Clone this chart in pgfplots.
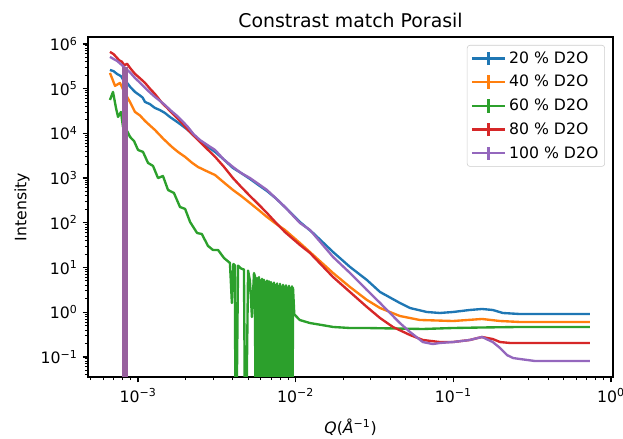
\documentclass[border=0pt]{standalone}
\usepackage{fontspec}
\setmainfont{DejaVu Sans}
\usepackage{pgfplots}
\pgfplotsset{compat=1.18}
\definecolor{c0}{HTML}{1F77B4}
\definecolor{c1}{HTML}{FF7F0E}
\definecolor{c2}{HTML}{2CA02C}
\definecolor{c3}{HTML}{D62728}
\definecolor{c4}{HTML}{9467BD}
\definecolor{cbar}{RGB}{152,96,158}
\begin{document}
\begin{tikzpicture}
\path[use as bounding box] (-63.4pt,-44.6pt) rectangle (385.2pt,271.4pt);
\begin{axis}[
  at={(0pt,0pt)}, anchor=south west,
  scale only axis, width=378pt, height=244.8pt,
  xmode=log, ymode=log,
  xmin=4.82e-4, xmax=1.03, ymin=0.0357, ymax=1.43e6,
  axis line style={black, line width=0.9pt},
  tick align=outside, xtick pos=bottom, ytick pos=left,
  major tick length=4pt, minor tick length=2.3pt,
  every tick/.style={black, line width=0.9pt},
  every minor tick/.style={black, line width=0.7pt},
  xtick={1e-3,1e-2,1e-1,1},
  xticklabels={10\textsuperscript{−3},10\textsuperscript{−2},10\textsuperscript{−1},10\textsuperscript{0}},
  minor xtick={5e-4,6e-4,7e-4,8e-4,9e-4,2e-3,3e-3,4e-3,5e-3,6e-3,7e-3,8e-3,9e-3,2e-2,3e-2,4e-2,5e-2,6e-2,7e-2,8e-2,9e-2,0.2,0.3,0.4,0.5,0.6,0.7,0.8,0.9},
  ytick={1e-1,1,10,100,1e3,1e4,1e5,1e6},
  yticklabels={10\textsuperscript{−1},10\textsuperscript{0},10\textsuperscript{1},10\textsuperscript{2},10\textsuperscript{3},10\textsuperscript{4},10\textsuperscript{5},10\textsuperscript{6}},
  minor ytick={0.04,0.05,0.06,0.07,0.08,0.09,0.2,0.3,0.4,0.5,0.6,0.7,0.8,0.9,2,3,4,5,6,7,8,9,20,30,40,50,60,70,80,90,200,300,400,500,600,700,800,900,2e3,3e3,4e3,5e3,6e3,7e3,8e3,9e3,2e4,3e4,4e4,5e4,6e4,7e4,8e4,9e4,2e5,3e5,4e5,5e5,6e5,7e5,8e5,9e5},
  ticklabel style={font=\fontsize{11.3}{13}\selectfont},
  xticklabel style={yshift=-1pt},
  title={Constrast match Porasil},
  title style={font=\fontsize{13.6}{16}\selectfont, yshift=-3pt},
  xlabel={\textit{Q}(\textit{Å}\textsuperscript{−1})},
  ylabel={Intensity},
  every axis x label/.style={at={(axis description cs:0.5,-0.147)},anchor=center},
  every axis y label/.style={at={(axis description cs:-0.1257,0.5)},rotate=90,anchor=center},
  label style={font=\fontsize{11.3}{13}\selectfont},
  legend cell align=left,
  legend style={at={(1,1)}, anchor=north east, xshift=-5.8pt, yshift=-5.8pt,
    draw=black!20, rounded corners=2pt, fill=white, fill opacity=0.8, text opacity=1,
    font=\fontsize{11.3}{13}\selectfont, row sep=3.2pt, inner sep=2.5pt},
  legend image code/.code={%
    \draw[#1,line width=1.7pt] (0pt,0pt) -- (24pt,0pt);
    \draw[#1,line width=1.7pt] (12pt,-4.8pt) -- (12pt,4.8pt);},
  every axis plot/.append style={line width=1.7pt, mark=none, line join=round},
]
% 20 % D2O
\addplot[c0] coordinates {
(6.64e-4,2.62e5) (7.0e-4,2.45e5) (7.36e-4,2.13e5) (7.8e-4,1.9e5) (8.27e-4,1.34e5) (8.6e-4,1.3e5) (8.9e-4,1.1e5) (9.57e-4,8.43e4)
(1.03e-3,7.0e4) (1.07e-3,6.3e4) (1.108e-3,5.03e4) (1.19e-3,4.5e4) (1.23e-3,4.1e4) (1.28e-3,3.70e4) (1.38e-3,3.3e4) (1.48e-3,2.86e4) (1.6e-3,2.3e4) (1.77e-3,1.80e4)
(1.9e-3,1.5e4) (2.07e-3,1.19e4) (2.25e-3,9.0e3) (2.47e-3,6.76e3) (2.75e-3,5.1e3) (3.08e-3,3.84e3) (3.5e-3,2.6e3) (4.00e-3,1.68e3) (4.5e-3,1.3e3) (5.13e-3,955) (5.8e-3,700) (6.57e-3,514)
(7.5e-3,350) (8.55e-3,225) (0.01064,104) (0.0129,59) (0.01726,22.2) (0.0221,10.3) (0.0283,5.25) (0.0343,2.83)
(0.0458,1.61) (0.0531,1.24) (0.0680,1.01) (0.0822,0.96) (0.0995,1.01) (0.127,1.12) (0.152,1.18)
(0.178,1.12) (0.206,0.96) (0.265,0.91) (0.429,0.91) (0.736,0.91)
};
\addlegendentry{20 \% D2O}
% 40 % D2O
\addplot[c1] coordinates {
(6.64e-4,2.24e5) (7.15e-4,1.15e5) (7.69e-4,1.34e5) (8.0e-4,1.0e5) (8.39e-4,7.23e4) (8.9e-4,5.0e4) (9.57e-4,3.01e4)
(1.03e-3,2.5e4) (1.108e-3,1.89e4) (1.19e-3,1.5e4) (1.28e-3,1.19e4) (1.45e-3,7.5e3) (1.64e-3,4.97e3) (1.8e-3,3.8e3) (1.99e-3,2.97e3) (2.2e-3,2.2e3) (2.40e-3,1.77e3)
(2.7e-3,1.45e3) (3.08e-3,1.17e3) (3.5e-3,800) (4.00e-3,542) (4.5e-3,400) (5.13e-3,277) (5.8e-3,195) (6.57e-3,135) (7.5e-3,95) (8.55e-3,69) (0.01064,35.3)
(0.0129,19.1) (0.01726,7.54) (0.0221,3.66) (0.0283,1.88) (0.0343,1.24) (0.0458,0.822)
(0.0613,0.67) (0.0995,0.635) (0.152,0.705) (0.198,0.635) (0.265,0.604) (0.736,0.604)
};
\addlegendentry{40 \% D2O}
% 60 % D2O
\addplot[c2] coordinates {
(6.64e-4,5.58e4) (6.94e-4,8.43e4) (7.25e-4,3.70e4) (7.47e-4,2.33e4) (7.80e-4,3.01e4)
(8.03e-4,1.39e4) (8.52e-4,1.13e4) (8.90e-4,8.30e3) (9.43e-4,6.76e3) (1.0e-3,4.25e3)
(1.076e-3,3.84e3) (1.157e-3,2.18e3) (1.245e-3,1.87e3) (1.339e-3,1.0e3) (1.44e-3,1.11e3)
(1.55e-3,542) (1.69e-3,464) (1.846e-3,225) (1.99e-3,204) (2.14e-3,104) (2.37e-3,59)
(2.54e-3,56) (2.78e-3,30.3) (2.99e-3,24.6) (3.22e-3,24.6) (3.51e-3,16.3) (3.83e-3,12.6)
(3.94e-3,1.61) (4.03e-3,12) (4.12e-3,11) (4.15e-3,1e-3) (4.20e-3,1e-3) (4.31e-3,11)
(4.50e-3,9.5) (4.70e-3,9) (4.78e-3,1e-3) (4.84e-3,1e-3) (4.99e-3,8.5) (5.13e-3,5)
(5.28e-3,0.78) (5.44e-3,7.5)
(5.52e-3,6.3) (5.56e-3,1e-3) (5.60e-3,5.0) (5.64e-3,1e-3) (5.68e-3,5.8) (5.725e-3,1e-3)
(5.77e-3,4.6) (5.81e-3,1e-3) (5.85e-3,6.1) (5.895e-3,1e-3) (5.94e-3,5.2) (5.985e-3,1e-3)
(6.03e-3,4.5) (6.075e-3,1e-3) (6.12e-3,5.6) (6.165e-3,1e-3) (6.21e-3,4.4) (6.255e-3,1e-3)
(6.30e-3,5.3) (6.345e-3,1e-3) (6.39e-3,4.8) (6.435e-3,1e-3) (6.48e-3,4.2) (6.53e-3,1e-3)
(6.58e-3,5.1) (6.63e-3,1e-3) (6.68e-3,4.5) (6.725e-3,1e-3) (6.77e-3,4.9) (6.82e-3,1e-3)
(6.87e-3,4.0) (6.925e-3,1e-3) (6.98e-3,4.7) (7.03e-3,1e-3) (7.08e-3,4.3) (7.13e-3,1e-3)
(7.18e-3,3.9) (7.235e-3,1e-3) (7.29e-3,4.6) (7.345e-3,1e-3) (7.40e-3,4.1) (7.455e-3,1e-3)
(7.51e-3,3.8) (7.565e-3,1e-3) (7.62e-3,4.4) (7.675e-3,1e-3) (7.73e-3,3.9) (7.785e-3,1e-3)
(7.84e-3,3.6) (7.90e-3,1e-3) (7.96e-3,4.3) (8.02e-3,1e-3) (8.08e-3,3.8) (8.14e-3,1e-3)
(8.20e-3,3.5) (8.26e-3,1e-3) (8.32e-3,4.1) (8.38e-3,1e-3) (8.44e-3,3.7) (8.50e-3,1e-3)
(8.56e-3,3.4) (8.625e-3,1e-3) (8.69e-3,4.0) (8.755e-3,1e-3) (8.82e-3,3.6) (8.885e-3,1e-3)
(8.95e-3,3.3) (9.015e-3,1e-3) (9.08e-3,3.9) (9.145e-3,1e-3) (9.21e-3,3.5) (9.28e-3,1e-3)
(9.35e-3,3.3) (9.415e-3,1e-3) (9.48e-3,3.8) (9.55e-3,1e-3) (9.62e-3,3.5)
(9.8e-3,0.9) (0.0106,0.67) (0.0123,0.573) (0.0146,0.518) (0.0173,0.467) (0.0221,0.443)
(0.0283,0.443) (0.0458,0.43) (0.0641,0.421) (0.0995,0.443) (0.152,0.455) (0.265,0.467) (0.736,0.467)
};
\addlegendentry{60 \% D2O}
% 80 % D2O
\addplot[c3] coordinates {
(6.64e-4,6.62e5) (7.0e-4,5.9e5) (7.36e-4,4.87e5) (7.6e-4,4.3e5) (7.9e-4,4.0e5) (8.2e-4,3.3e5) (8.52e-4,3.6e5) (8.9e-4,2.9e5) (9.57e-4,2.13e5)
(1.03e-3,1.7e5) (1.108e-3,1.34e5) (1.19e-3,1.0e5) (1.28e-3,7.6e4) (1.35e-3,6.0e4) (1.42e-3,4.78e4) (1.53e-3,3.7e4) (1.64e-3,2.86e4) (1.77e-3,2.2e4) (1.90e-3,1.71e4)
(2.05e-3,1.25e4) (2.23e-3,9.2e3) (2.45e-3,6.6e3) (2.66e-3,4.97e3) (3.08e-3,3.0e3) (3.5e-3,1.8e3) (4.00e-3,1.0e3) (4.5e-3,640) (5.13e-3,398) (5.8e-3,260) (6.57e-3,166)
(7.5e-3,100) (8.55e-3,62) (0.01064,31.9) (0.01233,21.1) (0.01726,6.12) (0.0221,2.83) (0.0283,1.31)
(0.0343,0.741) (0.0414,0.467) (0.0531,0.309) (0.0641,0.239) (0.0822,0.215) (0.0995,0.215)
(0.127,0.239) (0.152,0.279) (0.178,0.251) (0.198,0.215) (0.229,0.205) (0.429,0.205) (0.736,0.205)
};
\addlegendentry{80 \% D2O}
% 100 % D2O
\addplot[c4] coordinates {
(6.64e-4,5.12e5) (7.0e-4,4.6e5) (7.36e-4,4.17e5) (7.8e-4,3.5e5) (8.27e-4,2.90e5) (8.9e-4,2.3e5) (9.57e-4,1.73e5) (1.03e-3,1.35e5) (1.108e-3,1.04e5)
(1.19e-3,8.2e4) (1.28e-3,6.52e4) (1.38e-3,5.3e4) (1.48e-3,4.31e4) (1.62e-3,3.2e4) (1.77e-3,2.45e4) (1.92e-3,1.85e4) (2.07e-3,1.39e4) (2.25e-3,9.6e3) (2.47e-3,7.11e3)
(2.75e-3,5.5e3) (3.08e-3,4.25e3) (3.5e-3,2.6e3) (4.00e-3,1.77e3) (4.5e-3,1.3e3) (5.13e-3,1.0e3) (5.8e-3,740) (6.57e-3,542) (7.5e-3,350) (8.55e-3,225) (0.01064,99)
(0.01233,69) (0.01726,17.2) (0.0221,7.54) (0.0283,3.14) (0.0343,1.61) (0.0458,0.573)
(0.0531,0.361) (0.0641,0.215) (0.0742,0.194) (0.0822,0.205) (0.0995,0.215) (0.127,0.239)
(0.152,0.279) (0.178,0.215) (0.198,0.158) (0.219,0.110) (0.239,0.0945) (0.265,0.0897)
(0.330,0.0809) (0.736,0.0809)
};
\addlegendentry{100 \% D2O}
% large error bar of the 100 % series
\addplot[cbar, line width=4.3pt, line cap=butt, forget plot] coordinates {(8.27e-4,3.0e5) (8.27e-4,1e-3)};
\end{axis}
\end{tikzpicture}
\end{document}
